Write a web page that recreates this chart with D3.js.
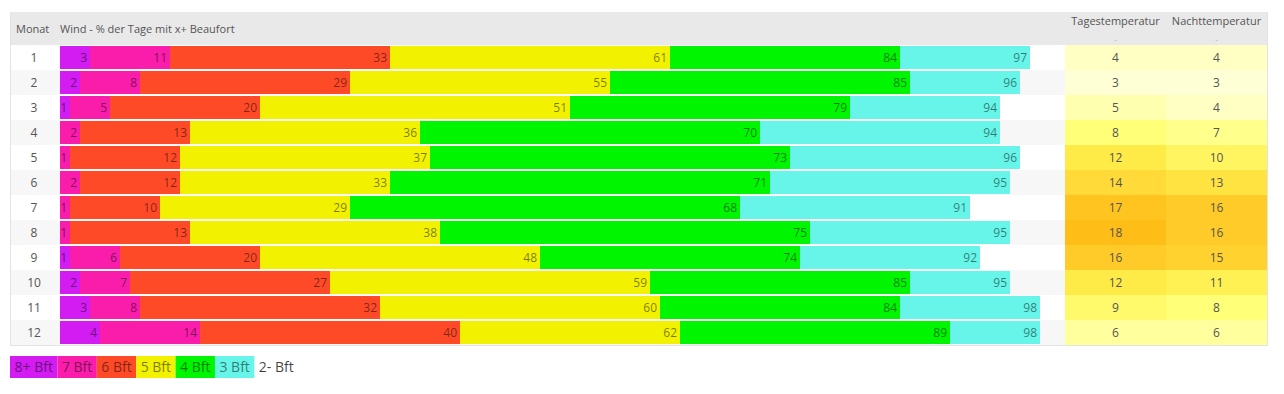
<!DOCTYPE html>
<html>
<head>
<meta charset="utf-8">
<script src="https://cdn.jsdelivr.net/npm/d3@7"></script>
<style>
  html, body { margin: 0; padding: 0; background: #fff; }
  svg { display: block; font-family: "Open Sans", sans-serif; }
</style>
</head>
<body>
<svg id="chart" width="1284" height="394"></svg>
<script>
// ---- data ----
const months = [1,2,3,4,5,6,7,8,9,10,11,12];
// cumulative % of days with x+ Beaufort
const bft8 = [3,2,1,0,0,0,0,0,1,2,3,4];
const bft7 = [11,8,5,2,1,2,1,1,6,7,8,14];
const bft6 = [33,29,20,13,12,12,10,13,20,27,32,40];
const bft5 = [61,55,51,36,37,33,29,38,48,59,60,62];
const bft4 = [84,85,79,70,73,71,68,75,74,85,84,89];
const bft3 = [97,96,94,94,96,95,91,95,92,95,98,98];
const dayTemp = [4,3,5,8,12,14,17,18,16,12,9,6];
const nightTemp = [4,3,4,7,10,13,16,16,15,11,8,6];
const legendLabels = ["8+ Bft","7 Bft","6 Bft","5 Bft","4 Bft","3 Bft","2- Bft"];
const legendColors = ["#d21cf2","#fa1dab","#ff4a28","#f2f200","#00f500","#66f5e8",null];
const headerWind = "Wind - % der Tage mit x+ Beaufort";

// ---- layout ----
const svg = d3.select("#chart");
const tableLeft = 10, tableRight = 1267, headTop = 12, headBottom = 45, bodyBottom = 345;
const x = d3.scaleLinear().domain([0,100]).range([60,1060]);
const y = d3.scaleBand().domain(months).range([headBottom, bodyBottom]);
const tempX = d3.scaleBand().domain(["Tagestemperatur","Nachttemperatur"]).range([1065, tableRight]);
const tempColor = d3.scaleLinear().domain([3,8,12,15,18])
  .range(["#ffffd6","#ffff78","#ffeb48","#ffd230","#ffbd18"]);

// header
svg.append("rect").attr("x", tableLeft).attr("y", headTop).attr("width", tableRight - tableLeft)
  .attr("height", headBottom - headTop).attr("fill", "#e9e9e9");
svg.append("text").attr("x", 16).attr("y", 33).attr("font-size", 11).attr("fill", "#555").text("Monat");
svg.append("text").attr("x", 60).attr("y", 33).attr("font-size", 11).attr("fill", "#555").text(headerWind);
tempX.domain().forEach(h => {
  svg.append("text").attr("x", tempX(h) + tempX.bandwidth()/2).attr("y", 25)
    .attr("text-anchor","middle").attr("font-size", 11).attr("fill", "#555").text(h);
  svg.append("text").attr("x", tempX(h) + tempX.bandwidth()/2).attr("y", 42)
    .attr("text-anchor","middle").attr("font-size", 8).attr("fill", "#aaa").text("-");
});

// row backgrounds
svg.append("g").selectAll("rect").data(months).join("rect")
  .attr("x", tableLeft).attr("y", d => y(d)).attr("width", 1065 - tableLeft).attr("height", y.bandwidth())
  .attr("fill", (d,i) => i % 2 ? "#f7f7f7" : "#ffffff");

// month labels
svg.append("g").selectAll("text").data(months).join("text")
  .attr("x", 34).attr("y", d => y(d) + y.bandwidth()/2 + 4)
  .attr("text-anchor","middle").attr("font-size", 12).attr("fill", "#555").text(d => d);

// bars
const series = [bft8, bft7, bft6, bft5, bft4, bft3];
const segs = [];
months.forEach((m, i) => {
  let prev = 0;
  series.forEach((s, k) => {
    const v = s[i];
    if (v > prev) segs.push({m, k, from: prev, to: v});
    prev = Math.max(prev, v);
  });
});
const bars = svg.append("g");
bars.selectAll("rect").data(segs).join("rect")
  .attr("x", d => x(d.from)).attr("y", d => y(d.m) + 1)
  .attr("width", d => x(d.to) - x(d.from)).attr("height", y.bandwidth() - 2)
  .attr("fill", d => legendColors[d.k]);
bars.selectAll("text").data(segs).join("text")
  .attr("x", d => x(d.to) - 3).attr("y", d => y(d.m) + y.bandwidth()/2 + 4)
  .attr("text-anchor","end").attr("font-size", 12).attr("fill", "#000").attr("fill-opacity", 0.5)
  .text(d => d.to);

// temperature cells
const temps = [["Tagestemperatur", dayTemp], ["Nachttemperatur", nightTemp]];
temps.forEach(([h, arr]) => {
  const g = svg.append("g");
  g.selectAll("rect").data(months).join("rect")
    .attr("x", tempX(h)).attr("y", d => y(d)).attr("width", tempX.bandwidth()).attr("height", y.bandwidth())
    .attr("fill", (d,i) => tempColor(arr[i]));
  g.selectAll("text").data(months).join("text")
    .attr("x", tempX(h) + tempX.bandwidth()/2).attr("y", d => y(d) + y.bandwidth()/2 + 4)
    .attr("text-anchor","middle").attr("font-size", 12).attr("fill", "#555")
    .text((d,i) => arr[i]);
});

// table borders
svg.append("line").attr("x1", tableLeft + 0.5).attr("x2", tableLeft + 0.5).attr("y1", headTop).attr("y2", bodyBottom)
  .attr("stroke", "#e3e3e3");
svg.append("line").attr("x1", tableRight + 0.5).attr("x2", tableRight + 0.5).attr("y1", headTop).attr("y2", bodyBottom)
  .attr("stroke", "#e3e3e3");
svg.append("line").attr("x1", tableLeft).attr("x2", tableRight + 1).attr("y1", bodyBottom + 0.5).attr("y2", bodyBottom + 0.5)
  .attr("stroke", "#e3e3e3");

// legend
const lg = svg.append("g");
let lx = 10;
legendLabels.forEach((lab, k) => {
  const t = lg.append("text").attr("y", 372).attr("font-size", 14).attr("fill", "#000")
    .attr("fill-opacity", legendColors[k] ? 0.5 : 0.75).text(lab);
  const w = t.node().getComputedTextLength();
  const bw = w + 9;
  if (legendColors[k]) {
    lg.insert("rect", "text").attr("x", lx).attr("y", 356).attr("width", bw).attr("height", 22)
      .attr("fill", legendColors[k]);
  }
  t.attr("x", lx + 4.5);
  lx += bw;
});
</script>
</body>
</html>
